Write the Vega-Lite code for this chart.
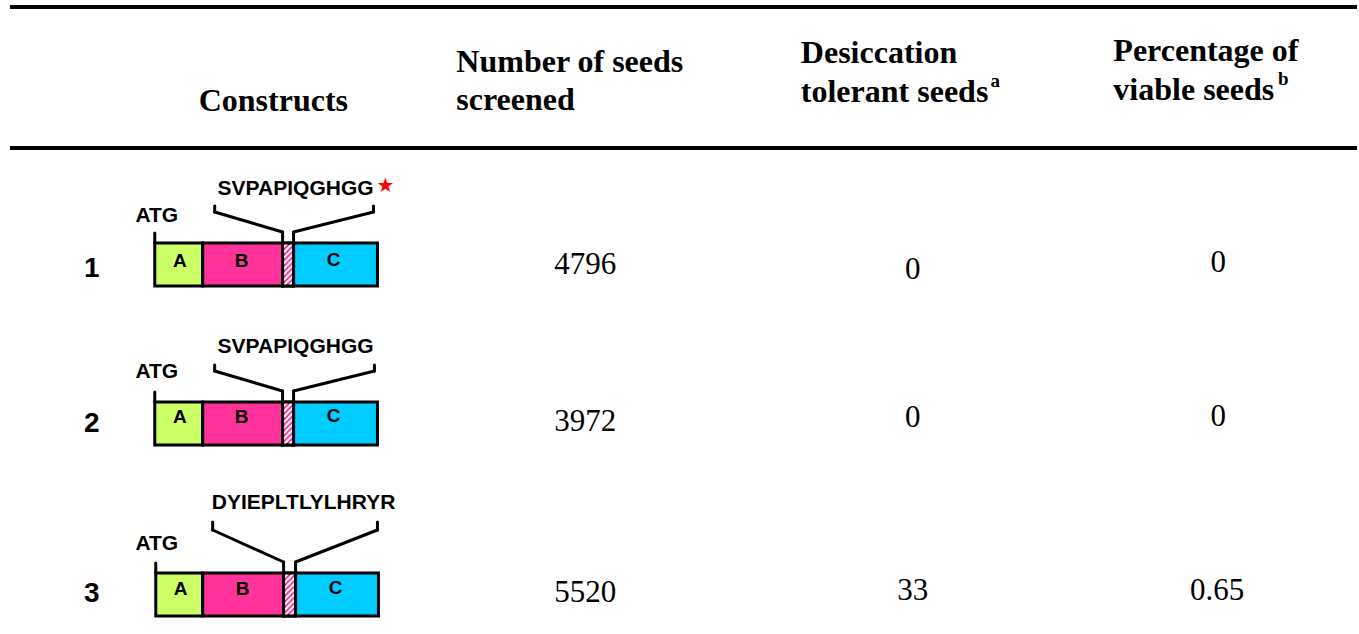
{
  "$schema": "https://vega.github.io/schema/vega-lite/v6.json",
  "width": 1359,
  "height": 634,
  "autosize": {"type": "fit", "contains": "padding"},
  "padding": 0,
  "background": "white",
  "config": {"view": {"stroke": null}},
  "datasets": {
    "hlines": [
      {"x": 10, "x2": 1359, "y": 7},
      {"x": 10, "x2": 1359, "y": 148}
    ],
    "headers": [
      {"t": "Constructs", "x": 199, "y": 111},
      {"t": "Number of seeds", "x": 457, "y": 72},
      {"t": "screened", "x": 457, "y": 110},
      {"t": "Desiccation", "x": 802, "y": 63},
      {"t": "tolerant seeds", "x": 802, "y": 102},
      {"t": "Percentage of", "x": 1115, "y": 61},
      {"t": "viable seeds", "x": 1115, "y": 100}
    ],
    "sups": [
      {"t": "a", "x": 992, "y": 87},
      {"t": "b", "x": 1280, "y": 85}
    ],
    "values": [
      {"t": "4796", "x": 586, "y": 274},
      {"t": "0", "x": 914, "y": 279},
      {"t": "0", "x": 1220, "y": 272},
      {"t": "3972", "x": 586, "y": 431},
      {"t": "0", "x": 914, "y": 427},
      {"t": "0", "x": 1220, "y": 426},
      {"t": "5520", "x": 586, "y": 602},
      {"t": "33", "x": 914, "y": 600},
      {"t": "0.65", "x": 1219, "y": 600}
    ],
    "rownums": [
      {"t": "1", "x": 92, "y": 277},
      {"t": "2", "x": 92, "y": 432},
      {"t": "3", "x": 92, "y": 602}
    ],
    "boxes": [
      {"x": 155, "x2": 203, "y": 243, "y2": 286, "fill": "#ccff66"},
      {"x": 203, "x2": 283, "y": 243, "y2": 286, "fill": "#ff3399"},
      {"x": 283, "x2": 294, "y": 243, "y2": 286, "fill": "#ff3399"},
      {"x": 294, "x2": 378, "y": 243, "y2": 286, "fill": "#00ccff"},
      {"x": 155, "x2": 203, "y": 402, "y2": 445, "fill": "#ccff66"},
      {"x": 203, "x2": 283, "y": 402, "y2": 445, "fill": "#ff3399"},
      {"x": 283, "x2": 294, "y": 402, "y2": 445, "fill": "#ff3399"},
      {"x": 294, "x2": 378, "y": 402, "y2": 445, "fill": "#00ccff"},
      {"x": 156, "x2": 203, "y": 573, "y2": 616, "fill": "#ccff66"},
      {"x": 203, "x2": 284, "y": 573, "y2": 616, "fill": "#ff3399"},
      {"x": 284, "x2": 296, "y": 573, "y2": 616, "fill": "#ff3399"},
      {"x": 296, "x2": 379, "y": 573, "y2": 616, "fill": "#00ccff"}
    ],
    "hatch": [
      {"x": 283, "x2": 294, "y": 243, "y2": 286},
      {"x": 283, "x2": 294, "y": 402, "y2": 445},
      {"x": 284, "x2": 296, "y": 573, "y2": 616}
    ],
    "stripes": [
      {"x": 283, "y": 248, "x2": 288, "y2": 243},
      {"x": 283, "y": 253.5, "x2": 293.5, "y2": 243},
      {"x": 283, "y": 259, "x2": 294, "y2": 248},
      {"x": 283, "y": 264.5, "x2": 294, "y2": 253.5},
      {"x": 283, "y": 270, "x2": 294, "y2": 259},
      {"x": 283, "y": 275.5, "x2": 294, "y2": 264.5},
      {"x": 283, "y": 281, "x2": 294, "y2": 270},
      {"x": 283.5, "y": 286, "x2": 294, "y2": 275.5},
      {"x": 289, "y": 286, "x2": 294, "y2": 281},
      {"x": 283, "y": 407, "x2": 288, "y2": 402},
      {"x": 283, "y": 412.5, "x2": 293.5, "y2": 402},
      {"x": 283, "y": 418, "x2": 294, "y2": 407},
      {"x": 283, "y": 423.5, "x2": 294, "y2": 412.5},
      {"x": 283, "y": 429, "x2": 294, "y2": 418},
      {"x": 283, "y": 434.5, "x2": 294, "y2": 423.5},
      {"x": 283, "y": 440, "x2": 294, "y2": 429},
      {"x": 283.5, "y": 445, "x2": 294, "y2": 434.5},
      {"x": 289, "y": 445, "x2": 294, "y2": 440},
      {"x": 284, "y": 578, "x2": 289, "y2": 573},
      {"x": 284, "y": 583.5, "x2": 294.5, "y2": 573},
      {"x": 284, "y": 589, "x2": 296, "y2": 577},
      {"x": 284, "y": 594.5, "x2": 296, "y2": 582.5},
      {"x": 284, "y": 600, "x2": 296, "y2": 588},
      {"x": 284, "y": 605.5, "x2": 296, "y2": 593.5},
      {"x": 284, "y": 611, "x2": 296, "y2": 599},
      {"x": 284.5, "y": 616, "x2": 296, "y2": 604.5},
      {"x": 290, "y": 616, "x2": 296, "y2": 610}
    ],
    "boxletters": [
      {"t": "A", "x": 180, "y": 267},
      {"t": "B", "x": 242, "y": 267},
      {"t": "C", "x": 334, "y": 266},
      {"t": "A", "x": 180, "y": 423},
      {"t": "B", "x": 242, "y": 423},
      {"t": "C", "x": 334, "y": 422},
      {"t": "A", "x": 181, "y": 595},
      {"t": "B", "x": 243, "y": 595},
      {"t": "C", "x": 336, "y": 594}
    ],
    "segments": [
      {"x": 155, "y": 233, "x2": 155, "y2": 243},
      {"x": 215, "y": 206, "x2": 215, "y2": 212},
      {"x": 215, "y": 212, "x2": 283, "y2": 232},
      {"x": 283, "y": 232, "x2": 283, "y2": 243},
      {"x": 294, "y": 243, "x2": 294, "y2": 232},
      {"x": 294, "y": 232, "x2": 374, "y2": 212},
      {"x": 374, "y": 212, "x2": 374, "y2": 206},
      {"x": 155, "y": 392, "x2": 155, "y2": 402},
      {"x": 215, "y": 365, "x2": 215, "y2": 371},
      {"x": 215, "y": 371, "x2": 283, "y2": 391},
      {"x": 283, "y": 391, "x2": 283, "y2": 402},
      {"x": 294, "y": 402, "x2": 294, "y2": 391},
      {"x": 294, "y": 391, "x2": 375, "y2": 371},
      {"x": 375, "y": 371, "x2": 375, "y2": 365},
      {"x": 156, "y": 563, "x2": 156, "y2": 573},
      {"x": 213, "y": 522, "x2": 213, "y2": 530},
      {"x": 213, "y": 530, "x2": 284, "y2": 562},
      {"x": 284, "y": 562, "x2": 284, "y2": 573},
      {"x": 296, "y": 573, "x2": 296, "y2": 562},
      {"x": 296, "y": 562, "x2": 378, "y2": 530},
      {"x": 378, "y": 530, "x2": 378, "y2": 522}
    ],
    "labels": [
      {"t": "SVPAPIQGHGG", "x": 296, "y": 195},
      {"t": "ATG", "x": 157, "y": 222},
      {"t": "SVPAPIQGHGG", "x": 296, "y": 353},
      {"t": "ATG", "x": 157, "y": 378},
      {"t": "DYIEPLTLYLHRYR", "x": 304, "y": 509},
      {"t": "ATG", "x": 157, "y": 550}
    ],
    "stars": [
      {"t": "★", "x": 386, "y": 186}
    ]
  },
  "encoding": {
    "x": {"field": "x", "type": "quantitative", "scale": {"domain": [0, 1359], "nice": false, "zero": false}, "axis": null},
    "y": {"field": "y", "type": "quantitative", "scale": {"domain": [0, 634], "nice": false, "zero": false, "reverse": true}, "axis": null}
  },
  "layer": [
    {
      "data": {"name": "hlines"},
      "mark": {"type": "rule", "strokeWidth": 4, "color": "black"},
      "encoding": {"x2": {"field": "x2"}}
    },
    {
      "data": {"name": "headers"},
      "mark": {"type": "text", "font": "Liberation Serif", "fontWeight": "bold", "fontSize": 32, "align": "left", "baseline": "alphabetic", "color": "black"},
      "encoding": {"text": {"field": "t"}}
    },
    {
      "data": {"name": "sups"},
      "mark": {"type": "text", "font": "Liberation Serif", "fontWeight": "bold", "fontSize": 19, "align": "left", "baseline": "alphabetic", "color": "black"},
      "encoding": {"text": {"field": "t"}}
    },
    {
      "data": {"name": "values"},
      "mark": {"type": "text", "font": "Liberation Serif", "fontSize": 31, "align": "center", "baseline": "alphabetic", "color": "black"},
      "encoding": {"text": {"field": "t"}}
    },
    {
      "data": {"name": "rownums"},
      "mark": {"type": "text", "font": "Liberation Sans", "fontWeight": "bold", "fontSize": 28, "align": "center", "baseline": "alphabetic", "color": "black"},
      "encoding": {"text": {"field": "t"}}
    },
    {
      "data": {"name": "boxes"},
      "mark": {"type": "rect", "stroke": "black", "strokeWidth": 3},
      "encoding": {
        "x2": {"field": "x2"},
        "y2": {"field": "y2"},
        "fill": {"field": "fill", "type": "nominal", "scale": null}
      }
    },
    {
      "data": {"name": "stripes"},
      "mark": {"type": "rule", "color": "white", "strokeWidth": 2},
      "encoding": {"x2": {"field": "x2"}, "y2": {"field": "y2"}}
    },
    {
      "data": {"name": "hatch"},
      "mark": {"type": "rect", "stroke": "black", "strokeWidth": 3, "fill": null, "fillOpacity": 0},
      "encoding": {"x2": {"field": "x2"}, "y2": {"field": "y2"}}
    },
    {
      "data": {"name": "segments"},
      "mark": {"type": "rule", "color": "black", "strokeWidth": 3, "strokeCap": "round"},
      "encoding": {"x2": {"field": "x2"}, "y2": {"field": "y2"}}
    },
    {
      "data": {"name": "boxletters"},
      "mark": {"type": "text", "font": "Liberation Sans", "fontWeight": "bold", "fontSize": 19, "align": "center", "baseline": "alphabetic", "color": "black"},
      "encoding": {"text": {"field": "t"}}
    },
    {
      "data": {"name": "labels"},
      "mark": {"type": "text", "font": "Liberation Sans", "fontWeight": "bold", "fontSize": 21, "align": "center", "baseline": "alphabetic", "color": "black"},
      "encoding": {"text": {"field": "t"}}
    },
    {
      "data": {"name": "stars"},
      "mark": {"type": "text", "font": "DejaVu Sans", "fontSize": 20, "align": "center", "baseline": "middle", "color": "#ff0000"},
      "encoding": {"text": {"field": "t"}}
    }
  ]
}
